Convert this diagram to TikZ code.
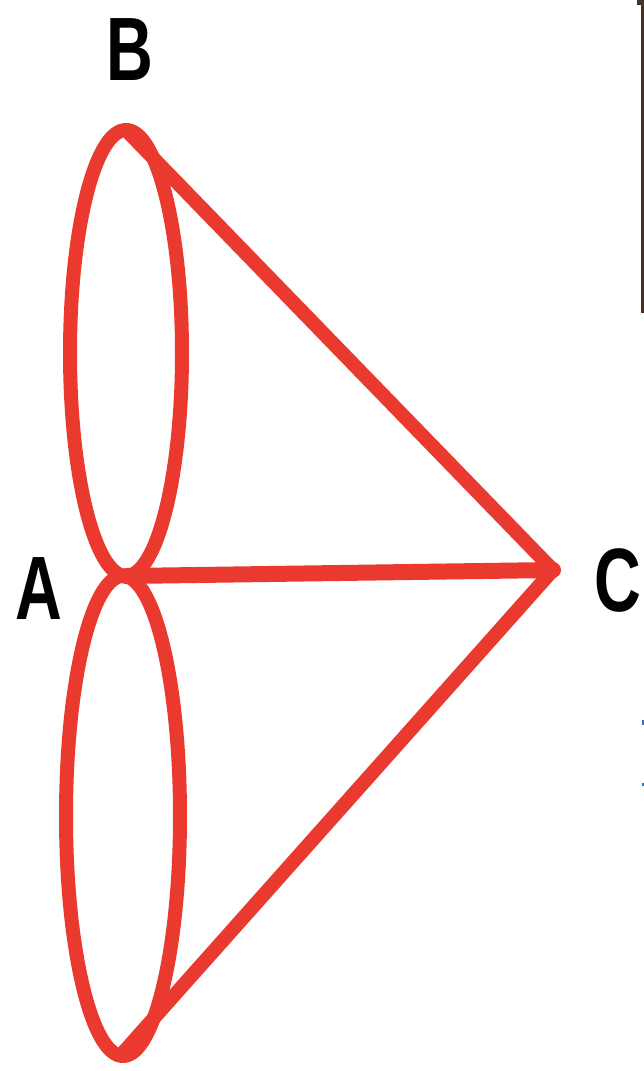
\documentclass[tikz,border=0pt]{standalone}
\usepackage{fontspec}
\setmainfont{Liberation Sans}
\definecolor{cred}{RGB}{234,58,48}
\definecolor{cbar}{RGB}{74,48,42}
\definecolor{cblue}{RGB}{60,110,190}
\tikzset{
  redline/.style={draw=cred,line width=14pt,line cap=round,line join=round},
  lbl/.style={font=\fontsize{90}{90}\selectfont\bfseries,inner sep=0pt,xscale=0.72,text=black}
}
\begin{document}
\begin{tikzpicture}[x=1pt,y=-1pt]
\useasboundingbox (0,0) rectangle (644,1071);
\coordinate (B) at (126,130);
\coordinate (A) at (126,576);
\coordinate (C) at (553,570);
\coordinate (D) at (121,1055);
% ellipses
\draw[redline] (126,353) ellipse [x radius=56, y radius=223];
\draw[redline] (123,816) ellipse [x radius=57, y radius=240];
% connectors
\draw[redline] (B) -- (C);
\draw[redline,line width=16pt] (A) -- (C);
\draw[redline] (C) -- (D);
% labels
\node[lbl] (lB) at (130,50) {B};
\node[lbl] (lA) at (39,589) {A};
\node[lbl] (lC) at (618,581) {C};
% right edge bar
\fill[cbar] (641,0) rectangle (644,313);
\fill[cbar] (637,0) rectangle (644,5);
\fill[cblue] (641.5,720) rectangle (644,725);
\fill[cblue] (641.5,783) rectangle (644,786);
\end{tikzpicture}
\end{document}
